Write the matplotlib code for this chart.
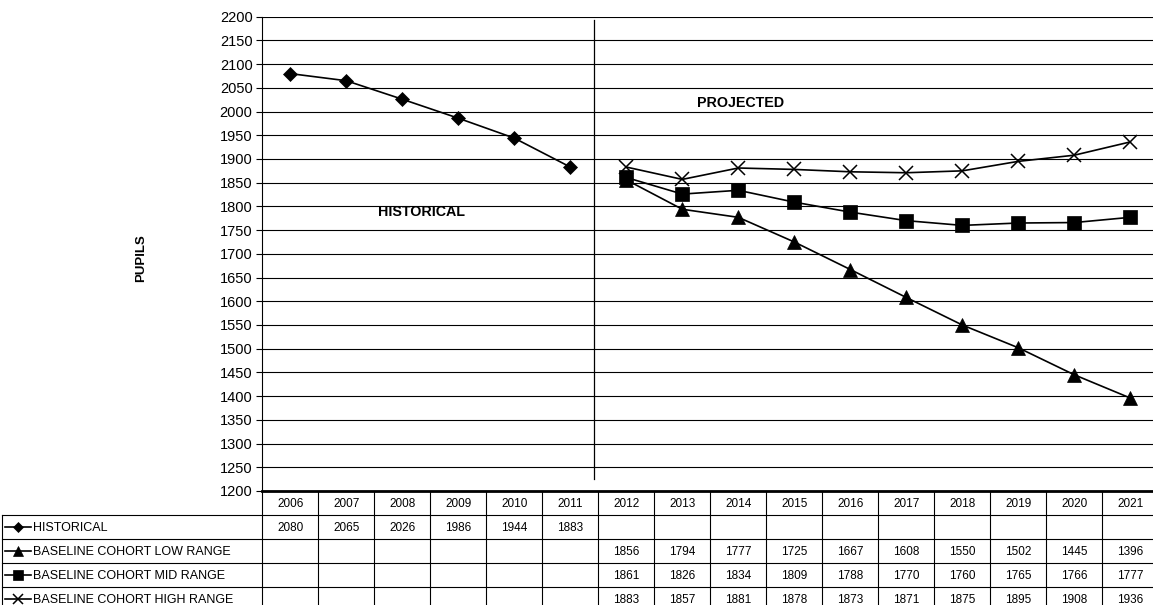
import matplotlib.pyplot as plt
import matplotlib

plt.rcParams['font.family'] = ['Liberation Sans', 'DejaVu Sans']

# data
years = list(range(2006, 2022))
hist_years = years[:6]
proj_years = years[6:]
historical = [2080, 2065, 2026, 1986, 1944, 1883]
low_range = [1856, 1794, 1777, 1725, 1667, 1608, 1550, 1502, 1445, 1396]
mid_range = [1861, 1826, 1834, 1809, 1788, 1770, 1760, 1765, 1766, 1777]
high_range = [1883, 1857, 1881, 1878, 1873, 1871, 1875, 1895, 1908, 1936]

series = [
    ('HISTORICAL', hist_years, historical, 'D', 7.5),
    ('BASELINE COHORT LOW RANGE', proj_years, low_range, '^', 10),
    ('BASELINE COHORT MID RANGE', proj_years, mid_range, 's', 9.5),
    ('BASELINE COHORT HIGH RANGE', proj_years, high_range, 'x', 10),
]

W, H = 1153, 605
fig = plt.figure(figsize=(W / 100, H / 100), dpi=100)

ax_left = 262.3 / W
ax_width = 896 / W
ax = fig.add_axes([ax_left, (H - 491) / H, ax_width, (491 - 16.7) / H])
ax.set_xlim(2005.5, 2021.5)
ax.set_ylim(1200, 2200)
ax.set_yticks(range(1200, 2201, 50))
ax.set_xticks([])
ax.grid(axis='y', color='black', linewidth=0.8)
ax.set_axisbelow(True)
for s in ['top', 'right']:
    ax.spines[s].set_visible(False)
ax.spines['left'].set_linewidth(0.8)
ax.spines['bottom'].set_linewidth(2)
ax.tick_params(axis='y', direction='out', length=4, width=0.8, labelsize=10.5, pad=3)

for name, xs, ys, mk, ms in series:
    ax.plot(xs, ys, color='black', linewidth=1.2, marker=mk, markersize=ms,
            markeredgewidth=1.1 if mk == 'x' else 0.5, clip_on=False)

# divider between historical and projected
ax.axvline(2011.42, ymin=0.025, ymax=0.992, color='black', linewidth=0.9)
ax.text(2008.34, 1788, 'HISTORICAL', fontsize=10.3, fontweight='bold', ha='center', va='center')
ax.text(2014.04, 2019, 'PROJECTED', fontsize=10.3, fontweight='bold', ha='center', va='center')

ax.set_ylabel('PUPILS', fontsize=9.5, fontweight='bold')
ax.yaxis.set_label_coords(-0.1287, 0.49)

# data table under the chart
tab_h = (611 - 491) / H
tax = fig.add_axes([0, (H - 611) / H, ax_left + ax_width, tab_h])
x0 = 2005.5 - 16 * ax_left / ax_width
tax.set_xlim(x0, 2021.5)
tax.set_ylim(5, 0)
tax.axis('off')
px = 1 / 56  # data units per pixel

lw = 0.8
# column separators
for i in range(len(years) + 1):
    xb = 2005.5 + i
    tax.plot([xb, xb], [0, 5], color='black', linewidth=lw, clip_on=False)
# row separators
label_left = x0 + 2 * px
for r in range(1, 5):
    tax.plot([label_left, 2021.5], [r, r], color='black', linewidth=lw, clip_on=False)
tax.plot([label_left, label_left], [1, 5], color='black', linewidth=lw, clip_on=False)

for y in years:
    tax.text(y, 0.55, str(y), ha='center', va='center', fontsize=8.5)

for r, (name, xs, ys, mk, ms) in enumerate(series, start=1):
    for xv, yv in zip(xs, ys):
        tax.text(xv, r + 0.55, str(yv), ha='center', va='center', fontsize=8.5)
    tax.plot([x0 + 5 * px, x0 + 31 * px], [r + 0.5, r + 0.5], color='black', linewidth=1.2,
             clip_on=False)
    tax.plot([x0 + 18 * px], [r + 0.5], color='black', marker=mk, markersize=ms * 0.7,
             markeredgewidth=1.1 if mk == 'x' else 0.5, clip_on=False)
    tax.text(x0 + 33 * px, r + 0.55, name, ha='left', va='center', fontsize=9)

fig.savefig('out.png', dpi=100)
